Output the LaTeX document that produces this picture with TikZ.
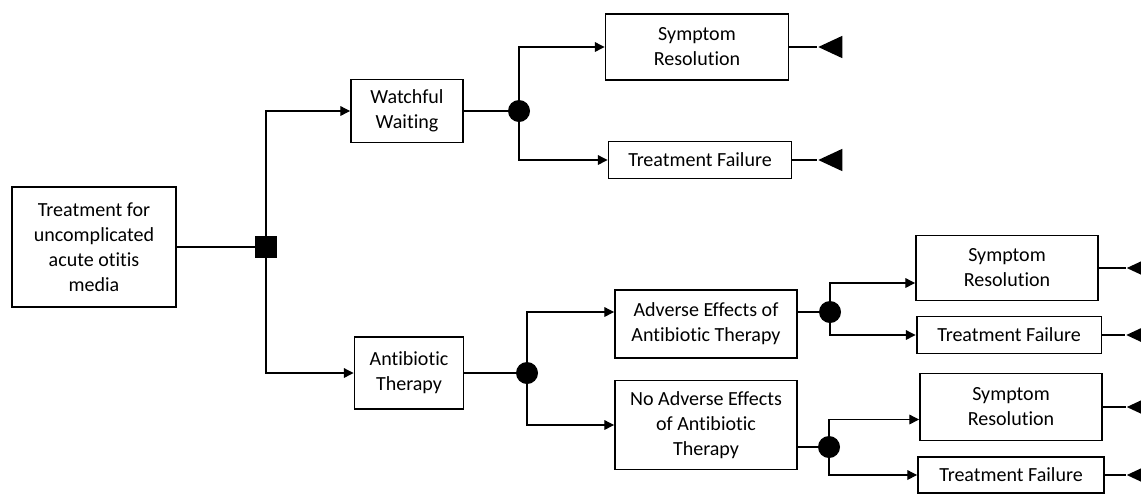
\documentclass[tikz,border=0pt]{standalone}
\usepackage{fontspec}
\setmainfont{Carlito}[Ligatures={NoCommon,NoContextual}]
\usepackage{tikz}
\usetikzlibrary{shapes.geometric, arrows.meta, positioning}
\tikzset{
  process/.style = {
    rectangle, draw=black, line width=1.1pt,
    align=center, inner sep=2pt,
    font=\fontsize{11.4}{14.2}\selectfont
  },
  choice/.style = {
    rectangle, fill=black, minimum size=0.44cm, inner sep=0pt
  },
  chance/.style = {
    circle, fill=black, minimum size=0.44cm, inner sep=0pt
  },
  terminal/.style = {
    isosceles triangle, isosceles triangle apex angle=50,
    shape border rotate=180, fill=black, inner sep=0pt,
    minimum height=0.48cm
  },
  myline/.style  = {line width=0.65pt},
  myarrow/.style = {-{Triangle[length=5.5pt,width=5.5pt]}, line width=0.65pt}
}

\begin{document}
\begin{tikzpicture}[x=0.02cm, y=-0.02cm]
\useasboundingbox (0,0) rectangle (1141,495);

% ----- NODES (root and first decision) -----
\node[process, minimum width=3.28cm, minimum height=2.4cm] (A) at (94,247)
  {Treatment for\\ uncomplicated\\ acute otitis\\ media};
\node[choice] (B) at (266,247) {};

% ----- watchful waiting branch -----
\node[process, minimum width=2.24cm, minimum height=1.26cm] (C) at (407,111) {Watchful\\ Waiting};
\node[chance] (E) at (519,111) {};
\node[process, minimum width=3.66cm, minimum height=1.32cm] (F) at (697,47) {Symptom\\ Resolution};
\node[process, minimum width=3.66cm, minimum height=0.74cm] (G) at (700,160) {Treatment Failure};

% ----- antibiotic branch -----
\node[process, minimum width=2.18cm, minimum height=1.44cm] (D) at (409,373) {Antibiotic\\ Therapy};
\node[chance] (H) at (527,373) {};
\node[process, minimum width=3.64cm, minimum height=1.36cm] (I) at (706,324) {Adverse Effects of\\ Antibiotic Therapy};
\node[process, minimum width=3.64cm, minimum height=1.78cm] (J) at (706,425) {No Adverse Effects\\ of Antibiotic\\ Therapy};
\node[chance] (K) at (830,312) {};
\node[chance] (N) at (829,447) {};
\node[process, minimum width=3.64cm, minimum height=1.3cm] (L) at (1007,268) {Symptom\\ Resolution};
\node[process, minimum width=3.7cm, minimum height=0.74cm] (M) at (1009,335) {Treatment Failure};
\node[process, minimum width=3.64cm, minimum height=1.34cm] (O) at (1011,407) {Symptom\\ Resolution};
\node[process, minimum width=3.72cm, minimum height=0.72cm] (P) at (1011,475) {Treatment Failure};

% ----- end triangles -----
\node[terminal, right=0.56cm of F] (T1) {};
\node[terminal, right=0.5cm of G]  (T2) {};
\node[terminal, right=0.54cm of L] (T3) {};
\node[terminal, right=0.46cm of M] (T4) {};
\node[terminal, right=0.46cm of O] (T5) {};
\node[terminal, right=0.42cm of P] (T6) {};

% ----- ARROWS -----
\draw[myline] (A) -- (B);
\draw[myarrow] (B.north) |- (C.west);
\draw[myarrow] (B.south) |- (D.west);

\draw[myline] (C) -- (E);
\draw[myarrow] (E.north) |- (F.west);
\draw[myarrow] (E.south) |- (G.west);

\draw[myline] (D) -- (H);
\draw[myarrow] (H.north) |- (I.west |- K);
\draw[myarrow] (H.south) |- (J.west);

\draw[myline] (I.east |- K) -- (K);
\draw[myarrow] (K.north) |- ([yshift=-0.3cm]L.west);
\draw[myarrow] (K.south) |- (M.west);

\draw[myline] (J.east |- N) -- (N);
\draw[myarrow] (N.north) |- ([yshift=-0.25cm]O.west);
\draw[myarrow] (N.south) |- (P.west);

% outcomes end in triangles
\draw[myline] (F) -- (T1);
\draw[myline] (G) -- (T2);
\draw[myline] (L) -- (T3);
\draw[myline] (M) -- (T4);
\draw[myline] (O) -- (T5);
\draw[myline] (P) -- (T6);

\end{tikzpicture}
\end{document}
